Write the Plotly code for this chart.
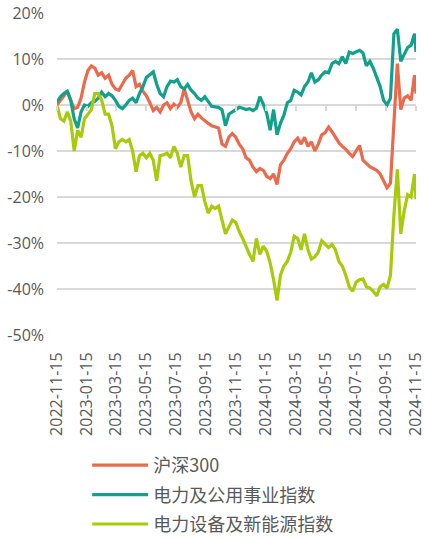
import pandas as pd
import plotly.graph_objects as go

# Weekly observation dates (plus final day), cumulative returns in %
start_date = "2022-11-15"
end_date = "2024-11-15"

hs300 = [0, 1.1, 2.0, 3.0, 1.0, -0.8, -0.5, 1.5, 5.0, 7.5,
         8.5, 8.0, 6.5, 7.0, 5.8, 6.5, 4.5, 3.5, 3.2, 4.5,
         5.8, 6.5, 7.5, 4.0, 4.5, 3.0, 2.0, 0.5, -1.2, -0.5,
         -1.5, 0.0, 0.5, -0.8, 0.2, -0.5, 0.5, 3.5, 1.0, -1.5,
         -3.0, -2.0, -2.8, -3.5, -4.0, -4.5, -4.8, -5.0, -8.5, -9.0,
         -7.0, -6.2, -7.0, -8.5, -9.5, -11.5, -12.0, -13.5, -14.5, -13.8,
         -14.2, -15.5, -16.0, -15.0, -17.3, -13.0, -12.0, -10.5, -9.5, -8.0,
         -7.2, -8.5, -7.0, -9.0, -8.0, -10.0, -8.5, -6.5, -6.0, -4.8,
         -5.8, -7.0, -8.2, -9.0, -9.6, -10.5, -11.2, -10.0, -8.8, -12.0,
         -12.8, -13.4, -13.8, -14.2, -15.0, -16.5, -18.0, -17.0, -3.0, 9.0,
         -1.0, 1.5, 2.0, 1.0, 6.5, 2.5]

utilities = [0.7, 1.8, 2.5, 3.0, 1.0, -3.0, -5.0, -1.5, 0.0, -0.3,
             0.5, 0.8, 1.5, 2.8, 1.8, 2.5, 2.0, 1.0, -0.3, -0.8,
             0.0, 1.0, 1.5, 0.5, 2.5, 4.0, 6.0, 6.5, 7.2, 4.5,
             2.5, 1.8, 4.0, 5.2, 5.0, 5.5, 4.0, 3.5, 4.5, 3.2,
             2.5, 1.5, 1.0, 1.8, 0.8, -0.3, -0.4, -0.5, -1.0, -4.5,
             -2.0, -1.5, -1.0, -0.5, -0.7, -1.0, -0.8, -1.2, -0.7, 1.8,
             0.2, -1.8, -5.5, -1.0, -6.5, -4.0, -2.2, 0.5, 1.0, 3.2,
             2.8, 2.2, 4.0, 5.0, 7.0, 5.0, 5.5, 6.5, 7.2, 7.0,
             9.0, 9.5, 9.0, 10.5, 9.0, 11.5, 11.2, 11.5, 11.9, 11.3,
             8.5, 9.5, 8.0, 6.0, 4.0, 1.0, 0.0, 1.5, 15.5, 16.5,
             9.5, 11.0, 12.5, 13.0, 15.5, 11.5]

new_energy = [0, -3.0, -3.5, -1.5, -3.5, -10.0, -5.5, -7.0, -3.0, -2.0,
              -1.0, 2.5, 2.5, 1.0, -2.0, -2.0, -4.5, -9.5, -8.0, -7.5,
              -8.0, -7.5, -10.0, -14.5, -11.0, -10.5, -11.5, -10.5, -12.0, -16.5,
              -11.0, -10.8, -10.5, -11.5, -9.0, -10.5, -13.5, -11.0, -11.0, -16.5,
              -20.0, -17.5, -17.5, -21.0, -23.5, -22.0, -22.5, -22.0, -25.0, -28.0,
              -26.5, -25.0, -25.5, -27.5, -29.0, -31.0, -32.5, -34.0, -29.0, -32.5,
              -30.7, -31.8, -34.3, -38.0, -42.5, -37.0, -35.0, -34.0, -32.0, -28.5,
              -29.0, -31.5, -28.0, -31.5, -33.5, -33.0, -32.0, -29.5, -30.3, -31.0,
              -30.3, -31.5, -34.0, -35.0, -37.0, -39.5, -40.5, -38.5, -38.0, -37.8,
              -39.5, -39.8, -40.5, -41.5, -39.5, -39.0, -39.8, -37.0, -24.0, -14.0,
              -28.0, -23.0, -19.5, -20.0, -15.0, -20.5]

series_names = ["沪深300", "电力及公用事业指数", "电力设备及新能源指数"]
series_colors = ["#EC6A4C", "#11A08B", "#A8CA0B"]

tick_dates = ["2022-11-15", "2023-01-15", "2023-03-15", "2023-05-15", "2023-07-15",
              "2023-09-15", "2023-11-15", "2024-01-15", "2024-03-15", "2024-05-15",
              "2024-07-15", "2024-09-15", "2024-11-15"]
y_ticks = [-50, -40, -30, -20, -10, 0, 10, 20]
y_labels = ["-50%", "-40%", "-30%", "-20%", "-10%", "0%", "10%", "20%"]

dates = list(pd.date_range(start_date, periods=len(hs300) - 1, freq="7D")) + [pd.Timestamp(end_date)]

fig = go.Figure()
for name, vals, col in zip(series_names, [hs300, utilities, new_energy], series_colors):
    fig.add_trace(go.Scatter(x=dates, y=vals, mode="lines", name=name,
                             legendgroup=name, cliponaxis=False,
                             line=dict(color=col, width=3.2)))

# helper axis to draw the tick marks on the 0% line
fig.add_trace(go.Scatter(x=[start_date, end_date], y=[0, 0], mode="lines",
                         line=dict(width=0), showlegend=False, hoverinfo="skip",
                         xaxis="x2"))

ymin, ymax = -50, 20
fig.update_layout(
    width=425, height=539,
    margin=dict(l=57, r=9, t=13, b=204),
    paper_bgcolor="white", plot_bgcolor="white",
    font=dict(family="Open Sans, Noto Sans CJK SC", color="#595959", size=16),
    showlegend=True,
    legend=dict(xref="paper", yref="container", x=0.084, y=0.1707,
                xanchor="left", yanchor="top",
                font=dict(family="Noto Sans CJK SC", size=18, color="#595959"),
                traceorder="grouped", tracegroupgap=3, itemwidth=56,
                bgcolor="rgba(0,0,0,0)"),
    xaxis=dict(type="date", range=[start_date, end_date], automargin=False,
               tickvals=tick_dates, ticktext=tick_dates, tickangle=-90,
               showgrid=False, zeroline=False, showline=False,
               ticks="outside", ticklen=10, tickcolor="rgba(0,0,0,0)",
               ticklabeloverflow="allow",
               tickfont=dict(family="Open Sans", size=16, color="#595959")),
    xaxis2=dict(type="date", range=[start_date, end_date], overlaying="x",
                anchor="free", position=(0 - ymin) / (ymax - ymin),
                tickvals=tick_dates, showticklabels=False, ticks="outside",
                ticklen=5, tickwidth=1.5, tickcolor="#D9D9D9", automargin=False,
                showgrid=False, zeroline=False, showline=False),
    yaxis=dict(range=[ymin, ymax], tickvals=y_ticks, ticktext=y_labels,
               showgrid=True, gridcolor="#D9D9D9", gridwidth=1.5, automargin=False,
               zeroline=False, showline=False, ticks="",
               ticklabelstandoff=12,
               tickfont=dict(family="Open Sans", size=16, color="#595959")),
)

fig.write_html("out.html", config={"displayModeBar": False},
               post_script="document.body.style.margin='0';")
